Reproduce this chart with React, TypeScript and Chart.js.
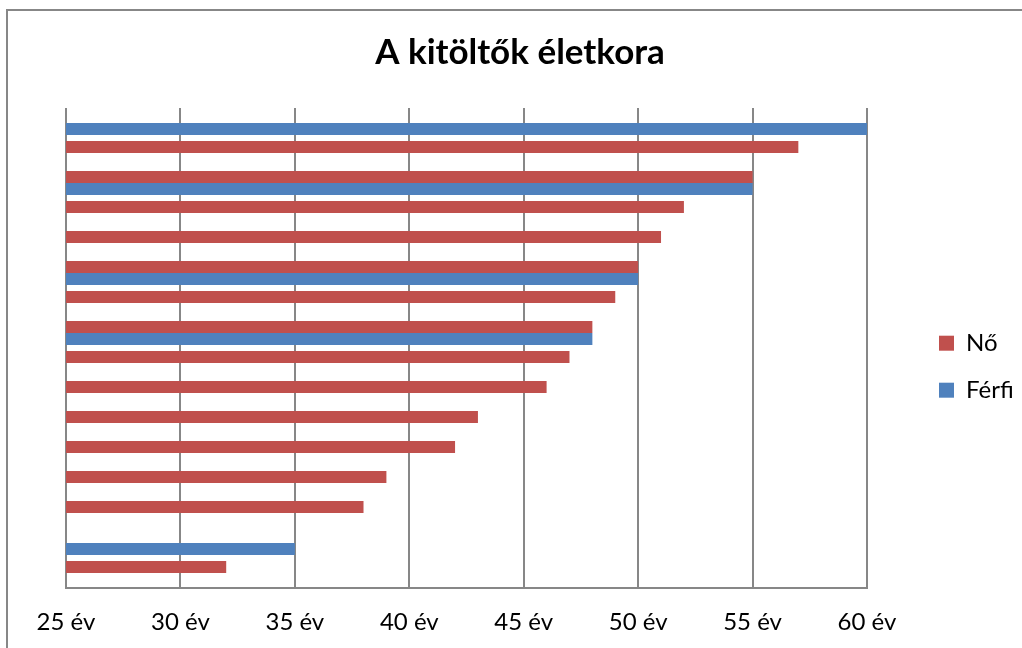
import React, { useEffect, useRef } from "react";
import { Chart, registerables } from "chart.js";

Chart.register(...registerables);

// Respondents (top to bottom); axis labels are not shown in the chart
const categories = ["1", "2", "3", "4", "5", "6", "7", "8", "9", "10", "11", "12", "13", "14", "15", "16"];
const seriesNames = ["Nő", "Férfi"];
const noValues = [null, 57, 55, 52, 51, 50, 49, 48, 47, 46, 43, 42, 39, 38, null, 32];
const ferfiValues = [60, null, 55, null, null, 50, null, 48, null, null, null, null, null, null, 35, null];
const xTicks = [25, 30, 35, 40, 45, 50, 55, 60];
const tickSuffix = " év";
const titleText = "A kitöltők életkora";

const FONT = "Lato, 'Open Sans', sans-serif";
const GRID = "#878787";

const framePlugin = {
  id: "frame",
  beforeDraw(chart: any) {
    const { ctx } = chart;
    ctx.save();
    ctx.strokeStyle = GRID;
    ctx.lineWidth = 2;
    ctx.strokeRect(7, 10, chart.width + 200, chart.height + 200);
    ctx.restore();
  },
};

export default function App() {
  const ref = useRef<HTMLCanvasElement | null>(null);

  useEffect(() => {
    if (!ref.current) return;
    const chart = new Chart(ref.current, {
      type: "bar",
      data: {
        labels: categories,
        datasets: [
          {
            label: seriesNames[0],
            data: noValues,
            backgroundColor: "#C0504D",
            borderWidth: 0,
            categoryPercentage: 0.8,
            barPercentage: 1,
          },
          {
            label: seriesNames[1],
            data: ferfiValues,
            backgroundColor: "#4F81BD",
            borderWidth: 0,
            categoryPercentage: 0.8,
            barPercentage: 1,
          },
        ],
      },
      options: {
        indexAxis: "y",
        responsive: false,
        animation: false,
        layout: { padding: { left: 28, right: 10, top: 10, bottom: 11 } },
        scales: {
          x: {
            type: "linear",
            position: "bottom",
            min: xTicks[0],
            max: xTicks[xTicks.length - 1],
            ticks: {
              stepSize: xTicks[1] - xTicks[0],
              callback: (v: any) => `${v}${tickSuffix}`,
              color: "#000",
              font: { family: FONT, size: 24 },
              padding: 20,
              maxRotation: 0,
              autoSkip: false,
            },
            grid: { color: GRID, lineWidth: 2, drawTicks: false },
            border: { display: true, color: GRID, width: 2 },
            afterFit: (s: any) => {
              s.height = 49;
            },
          },
          y: {
            type: "category",
            position: "left",
            grid: { display: false },
            border: { display: false },
            ticks: { display: false },
            afterFit: (s: any) => {
              s.width = 38;
            },
          },
          yRight: {
            type: "category",
            position: "right",
            grid: { display: false },
            border: { display: false },
            ticks: { display: false },
            afterFit: (s: any) => {
              s.width = 49;
            },
          },
        } as any,
        plugins: {
          title: {
            display: true,
            text: titleText,
            color: "#000",
            font: { family: FONT, size: 35, weight: "bold" },
            padding: { top: 22, bottom: 34 },
          },
          legend: {
            display: true,
            position: "right",
            fullSize: false,
            maxWidth: 96,
            title: { display: true, text: "", font: { size: 12 }, padding: 11.5 },
            labels: {
              boxWidth: 15,
              boxHeight: 15,
              padding: 23,
              color: "#000",
              font: { family: FONT, size: 24 },
            },
          } as any,
          tooltip: { enabled: false },
        },
      },
      plugins: [framePlugin],
    });
    return () => chart.destroy();
  }, []);

  return (
    <div style={{ position: "fixed", left: 0, top: 0, width: 1022, height: 648, overflow: "hidden", background: "#fff" }}>
      <canvas ref={ref} width={1022} height={648} style={{ display: "block", width: 1022, height: 648 }} />
    </div>
  );
}
